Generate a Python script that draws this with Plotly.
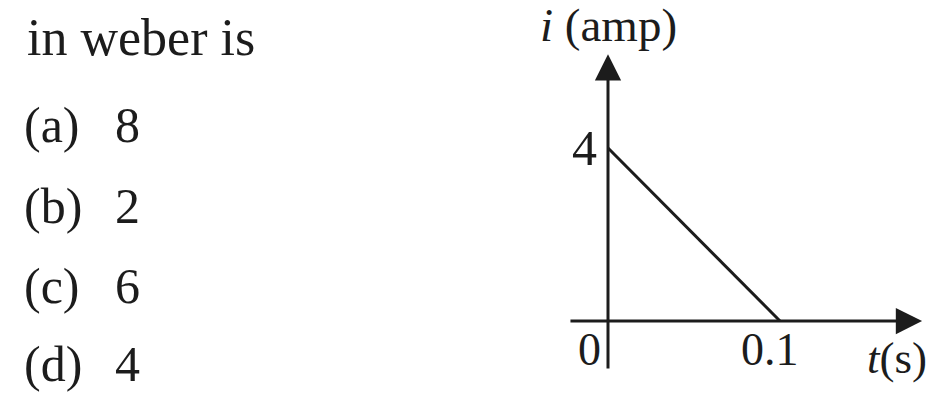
import plotly.graph_objects as go

# ---- data ----
time_s = [0, 0.1]
current_amp = [4, 0]
x_tick_vals = [0, 0.1]
x_tick_labels = ["0", "0.1"]
y_tick_vals = [4]
y_tick_labels = ["4"]
question_text = "in weber is"
option_letters = ["(a)", "(b)", "(c)", "(d)"]
option_values = ["8", "2", "6", "4"]

W, H = 932, 394
FONT = "Liberation Serif, Times New Roman, serif"
INK = "#1c1c1c"

# axis ranges chosen so that the plot spans the full canvas
X_RANGE = [-0.35349, 0.18837]
Y_RANGE = [-1.6879, 7.4220]

# extents of the drawn axes (data units)
X_AXIS_START, X_AXIS_END = -0.0227, 0.1826
Y_AXIS_START, Y_AXIS_END = -1.133, 6.17

fig = go.Figure()
fig.add_trace(go.Scatter(x=time_s, y=current_amp, mode="lines",
                         line=dict(color=INK, width=3), hoverinfo="skip",
                         showlegend=False))

ann = []
# axis arrows
ann.append(dict(x=X_AXIS_END, y=0, ax=X_AXIS_START, ay=0, xref="x", yref="y",
                axref="x", ayref="y", showarrow=True, arrowhead=2, arrowsize=1.75,
                arrowwidth=3, arrowcolor=INK, text=""))
ann.append(dict(x=0, y=Y_AXIS_END, ax=0, ay=Y_AXIS_START, xref="x", yref="y",
                axref="x", ayref="y", showarrow=True, arrowhead=2, arrowsize=1.75,
                arrowwidth=3, arrowcolor=INK, text=""))

# tick labels
x_shifts = [-19, -10]
for v, lab, xs in zip(x_tick_vals, x_tick_labels, x_shifts):
    ann.append(dict(x=v, y=0, xref="x", yref="y", text=lab, showarrow=False,
                    xshift=xs, yshift=-28, font=dict(family=FONT, size=46, color=INK)))
for v, lab in zip(y_tick_vals, y_tick_labels):
    ann.append(dict(x=0, y=v, xref="x", yref="y", text=lab, showarrow=False,
                    xshift=-24, yshift=0, font=dict(family=FONT, size=50, color=INK)))

# axis titles
ann.append(dict(x=0, y=Y_AXIS_END, xref="x", yref="y", text="<i>i</i> (amp)",
                showarrow=False, yshift=29, font=dict(family=FONT, size=47, color=INK)))
ann.append(dict(x=X_AXIS_END, y=0, xref="x", yref="y", text="<i>t</i>(s)",
                showarrow=False, xanchor="left", xshift=-57, yshift=-37,
                font=dict(family=FONT, size=45, color=INK)))

# question text
def py(px):
    return 1 - px / H

ann.append(dict(x=25 / W, y=py(37), xref="paper", yref="paper", text=question_text,
                xanchor="left", yanchor="middle", showarrow=False,
                font=dict(family=FONT, size=52, color=INK)))
row_y = [125, 206, 286, 364]
for letter, val, yy in zip(option_letters, option_values, row_y):
    ann.append(dict(x=22 / W, y=py(yy), xref="paper", yref="paper", text=letter,
                    xanchor="left", yanchor="middle", showarrow=False,
                    font=dict(family=FONT, size=50, color=INK)))
    ann.append(dict(x=113 / W, y=py(yy), xref="paper", yref="paper", text=val,
                    xanchor="left", yanchor="middle", showarrow=False,
                    font=dict(family=FONT, size=50, color=INK)))

fig.update_layout(
    width=W, height=H, autosize=False,
    margin=dict(l=0, r=0, t=0, b=0),
    paper_bgcolor="white", plot_bgcolor="white",
    xaxis=dict(range=X_RANGE, visible=False, fixedrange=True),
    yaxis=dict(range=Y_RANGE, visible=False, fixedrange=True),
    annotations=ann,
    showlegend=False,
)
fig.write_html("out.html", config={"displayModeBar": False},
               post_script="document.body.style.margin='0';document.body.style.overflow='hidden';")
